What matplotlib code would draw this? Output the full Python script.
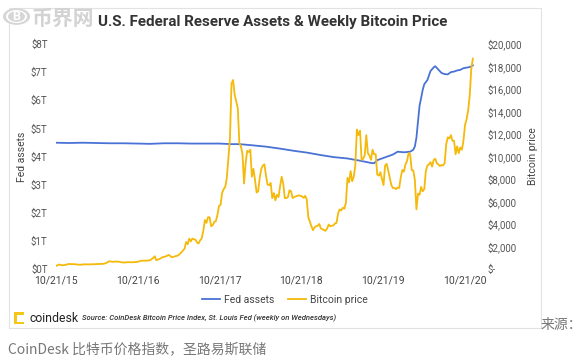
import matplotlib
matplotlib.use("Agg")
import matplotlib.pyplot as plt
from matplotlib.patches import Rectangle, Circle
import pandas as pd

plt.rcParams['font.family'] = ['Roboto', 'Noto Sans CJK SC', 'DejaVu Sans']

# ---------------- data ----------------
btc_dates = [
    "2015-10-21","2015-11-04","2015-11-18","2015-12-02","2015-12-16","2015-12-30",
    "2016-01-13","2016-01-27","2016-02-10","2016-02-24","2016-03-09","2016-03-23",
    "2016-04-06","2016-04-20","2016-05-04","2016-05-18","2016-06-01","2016-06-15",
    "2016-06-29","2016-07-13","2016-07-27","2016-08-10","2016-08-24","2016-09-07",
    "2016-09-21","2016-10-05","2016-10-19","2016-11-02","2016-11-16","2016-11-30",
    "2016-12-14","2016-12-28","2017-01-04","2017-01-11","2017-01-25","2017-02-08",
    "2017-02-22","2017-03-08","2017-03-22","2017-04-05","2017-04-19","2017-05-03",
    "2017-05-17","2017-05-24","2017-05-31","2017-06-07","2017-06-14","2017-06-21",
    "2017-07-05","2017-07-12","2017-07-19","2017-07-26","2017-08-02","2017-08-09",
    "2017-08-16","2017-08-23","2017-08-30","2017-09-06","2017-09-13","2017-09-20",
    "2017-09-27","2017-10-04","2017-10-11","2017-10-18","2017-10-25","2017-11-01",
    "2017-11-08","2017-11-15","2017-11-22","2017-11-29","2017-12-06","2017-12-13",
    "2017-12-20","2017-12-27","2018-01-03","2018-01-10","2018-01-17","2018-01-24",
    "2018-01-31","2018-02-07","2018-02-14","2018-02-21","2018-02-28","2018-03-07",
    "2018-03-14","2018-03-21","2018-03-28","2018-04-04","2018-04-11","2018-04-18",
    "2018-04-25","2018-05-02","2018-05-09","2018-05-16","2018-05-23","2018-05-30",
    "2018-06-06","2018-06-13","2018-06-20","2018-06-27","2018-07-04","2018-07-11",
    "2018-07-18","2018-07-25","2018-08-01","2018-08-08","2018-08-15","2018-08-22",
    "2018-08-29","2018-09-05","2018-09-12","2018-09-19","2018-09-26","2018-10-03",
    "2018-10-10","2018-10-17","2018-10-24","2018-10-31","2018-11-07","2018-11-14",
    "2018-11-21","2018-11-28","2018-12-05","2018-12-12","2018-12-19","2018-12-26",
    "2019-01-02","2019-01-09","2019-01-16","2019-01-23","2019-01-30","2019-02-06",
    "2019-02-13","2019-02-20","2019-02-27","2019-03-06","2019-03-13","2019-03-20",
    "2019-03-27","2019-04-03","2019-04-10","2019-04-17","2019-04-24","2019-05-01",
    "2019-05-08","2019-05-15","2019-05-22","2019-05-29","2019-06-05","2019-06-12",
    "2019-06-19","2019-06-26","2019-07-03","2019-07-10","2019-07-17","2019-07-24",
    "2019-07-31","2019-08-07","2019-08-14","2019-08-21","2019-08-28","2019-09-04",
    "2019-09-11","2019-09-18","2019-09-25","2019-10-02","2019-10-09","2019-10-16",
    "2019-10-23","2019-10-30","2019-11-06","2019-11-13","2019-11-20","2019-11-27",
    "2019-12-04","2019-12-11","2019-12-18","2019-12-25","2020-01-01","2020-01-08",
    "2020-01-15","2020-01-22","2020-01-29","2020-02-05","2020-02-12","2020-02-19",
    "2020-02-26","2020-03-04","2020-03-11","2020-03-18","2020-03-25","2020-04-01",
    "2020-04-08","2020-04-15","2020-04-22","2020-04-29","2020-05-06","2020-05-13",
    "2020-05-20","2020-05-27","2020-06-03","2020-06-10","2020-06-17","2020-06-24",
    "2020-07-01","2020-07-08","2020-07-15","2020-07-22","2020-07-29","2020-08-05",
    "2020-08-12","2020-08-19","2020-08-26","2020-09-02","2020-09-09","2020-09-16",
    "2020-09-23","2020-09-30","2020-10-07","2020-10-14","2020-10-21","2020-10-28",
    "2020-11-04","2020-11-11","2020-11-18","2020-11-25",
]
btc_price = [
    270, 400, 330, 360, 450, 430,
    430, 390, 380, 420, 410, 415,
    420, 440, 450, 450, 530, 690,
    640, 660, 655, 590, 580, 610,
    595, 610, 630, 730, 740, 740,
    780, 975, 1130, 780, 890, 1050,
    1120, 1250, 1040, 1120, 1210, 1480,
    1800, 2400, 2200, 2700, 2450, 2700,
    2600, 2350, 2270, 2550, 2720, 3400,
    4350, 4100, 4600, 4600, 3800, 3900,
    4200, 4250, 4800, 5600, 5700, 6750,
    7100, 7300, 8100, 9900, 11600, 16500,
    16800, 15500, 14900, 14300, 11200, 10900,
    10200, 7600, 9400, 10500, 10400, 10600,
    8200, 8900, 7900, 6800, 6900, 8100,
    8900, 9200, 9300, 8300, 7500, 7450,
    7650, 6300, 6750, 6100, 6600, 6400,
    7350, 8200, 7600, 6300, 6300, 6400,
    7000, 6900, 6300, 6400, 6450, 6500,
    6550, 6500, 6450, 6320, 6500, 6200,
    4600, 4200, 3800, 3450, 3700, 3800,
    3850, 4000, 3600, 3550, 3450, 3400,
    3600, 3950, 3800, 3850, 3870, 4050,
    4100, 4950, 5300, 5200, 5450, 5350,
    5900, 8100, 7700, 8700, 7800, 8200,
    9200, 12400, 11900, 12300, 9700, 9800,
    10100, 11900, 10300, 10100, 9700, 10600,
    10200, 10200, 8400, 8300, 8600, 8000,
    7450, 9200, 9350, 8750, 8100, 7450,
    7200, 7200, 7100, 7250, 7200, 8150,
    8800, 8650, 9300, 9600, 10300, 10200,
    8800, 8750, 7900, 5300, 6700, 6600,
    7300, 6900, 7100, 8700, 9200, 9300,
    9500, 9100, 9700, 9800, 9400, 9300,
    9150, 9250, 9200, 9400, 11100, 11700,
    11600, 11900, 11400, 11400, 10200, 10900,
    10300, 10800, 10600, 11400, 12800, 13300,
    14100, 15400, 17800, 18700,
]

fed_dates = [
    "2015-10-21","2015-12-16","2016-02-17","2016-04-20","2016-06-15","2016-08-17",
    "2016-10-19","2016-12-14","2017-02-15","2017-04-19","2017-06-14","2017-08-16",
    "2017-10-18","2017-12-13","2018-01-17","2018-03-14","2018-05-16","2018-07-18",
    "2018-09-19","2018-11-14","2019-01-16","2019-03-13","2019-05-15","2019-07-17",
    "2019-08-28","2019-09-11","2019-09-25","2019-10-30","2019-12-04","2019-12-25",
    "2020-01-22","2020-02-19","2020-03-04","2020-03-11","2020-03-18","2020-03-25",
    "2020-04-01","2020-04-08","2020-04-15","2020-04-22","2020-05-06","2020-05-20",
    "2020-06-03","2020-06-10","2020-06-24","2020-07-08","2020-07-22","2020-08-05",
    "2020-08-19","2020-09-02","2020-09-16","2020-09-30","2020-10-14","2020-10-28",
    "2020-11-11","2020-11-25",
]
fed_assets = [
    4.49, 4.48, 4.49, 4.48, 4.47, 4.47,
    4.46, 4.45, 4.47, 4.47, 4.46, 4.46,
    4.46, 4.44, 4.44, 4.40, 4.35, 4.28,
    4.20, 4.14, 4.05, 3.98, 3.93, 3.84,
    3.77, 3.76, 3.87, 3.97, 4.07, 4.17,
    4.15, 4.17, 4.24, 4.36, 4.67, 5.25,
    5.81, 6.08, 6.37, 6.57, 6.72, 7.04,
    7.17, 7.21, 7.09, 6.97, 6.93, 6.92,
    7.00, 7.02, 7.06, 7.08, 7.14, 7.16,
    7.18, 7.24,
]

x_tick_dates = ["2015-10-21","2016-10-21","2017-10-21","2018-10-21","2019-10-21","2020-10-21"]
x_tick_labels = ["10/21/15","10/21/16","10/21/17","10/21/18","10/21/19","10/21/20"]
left_ticks = [0, 1, 2, 3, 4, 5, 6, 7, 8]
left_labels = ["$0T","$1T","$2T","$3T","$4T","$5T","$6T","$7T","$8T"]
right_ticks = [0, 2000, 4000, 6000, 8000, 10000, 12000, 14000, 16000, 18000, 20000]
right_labels = ["$-","$2,000","$4,000","$6,000","$8,000","$10,000","$12,000",
                "$14,000","$16,000","$18,000","$20,000"]

BLUE = "#4a72d6"
YELLOW = "#f5b90a"
TICK = "#555555"

W, H = 583, 361
fig = plt.figure(figsize=(W / 100, H / 100), dpi=100)
fig.patch.set_facecolor("white")


def fx(px):
    return px / W


def fy(py):
    return 1 - py / H


# card border
fig.patches.append(Rectangle((fx(9), fy(328)), fx(541) - fx(9), fy(8) - fy(328),
                             transform=fig.transFigure, fill=False,
                             edgecolor="#e2e2e2", lw=0.8, zorder=0))

ax = fig.add_axes([fx(56), fy(269), fx(478) - fx(56), fy(44) - fy(269)])
ax2 = ax.twinx()

fd = pd.to_datetime(fed_dates)
bd = pd.to_datetime(btc_dates)
l1, = ax.plot(fd, fed_assets, color=BLUE, lw=1.3, label="Fed assets", zorder=3)
l2, = ax2.plot(bd, btc_price, color=YELLOW, lw=1.3, label="Bitcoin price", zorder=2)

ax.set_xlim(pd.Timestamp("2015-10-21"), pd.Timestamp("2020-12-18"))
ax.set_ylim(0, 8)
ax2.set_ylim(0, 20000)

ax.set_xticks(pd.to_datetime(x_tick_dates))
ax.set_xticklabels(x_tick_labels, fontsize=7.5, color="#444444")
ax.set_yticks(left_ticks)
ax.set_yticklabels(left_labels, fontsize=7, color=TICK)
ax2.set_yticks(right_ticks)
ax2.set_yticklabels(right_labels, fontsize=7, color=TICK)

for a in (ax, ax2):
    for s in a.spines.values():
        s.set_visible(False)
    a.tick_params(length=0)
    a.patch.set_alpha(0)
ax.tick_params(axis="x", pad=5)
ax.tick_params(axis="y", pad=6)
ax2.tick_params(axis="y", pad=7)

ax.set_ylabel("Fed assets", fontsize=7.5, color="#444444", labelpad=3)
ax2.set_ylabel("Bitcoin price", fontsize=7.5, color="#444444", labelpad=4)

# title
fig.text(fx(98), fy(22), "U.S. Federal Reserve Assets & Weekly Bitcoin Price",
         fontsize=10.9, fontweight="bold", color="#333333", va="center", ha="left")

# watermark logo
fig.patches.append(Circle((fx(16.5), fy(16.5)), 13.5 / W, transform=fig.transFigure,
                          facecolor="#d6d6d6", edgecolor="none", zorder=1))
fig.patches.append(Circle((fx(16.5), fy(16.5)), 10.5 / W, transform=fig.transFigure,
                          facecolor="white", edgecolor="none", zorder=1))
fig.patches.append(Circle((fx(16.5), fy(16.5)), 8.5 / W, transform=fig.transFigure,
                          facecolor="#d6d6d6", edgecolor="none", zorder=1))
fig.text(fx(16.5), fy(16.5), "B", fontsize=9, fontweight="bold", color="white",
         ha="center", va="center")
fig.text(fx(32), fy(18), "币界网", fontsize=15, fontweight="bold", color="#d3d3d3",
         ha="left", va="center", family=["Noto Sans CJK SC", "DejaVu Sans"])

# legend
fig.legend(handles=[l1, l2], loc="center", bbox_to_anchor=(fx(285), fy(300)),
           ncol=2, frameon=False, fontsize=7.5, handlelength=1.7, handletextpad=0.4,
           columnspacing=1.3, labelcolor="#444444")

# coindesk footer
for (x0, y0, w, h) in [(14, 324, 3, 12), (14, 314.5, 10, 2.5), (14, 324, 10, 2.5)]:
    fig.patches.append(Rectangle((fx(x0), fy(y0)), w / W, h / H,
                                 transform=fig.transFigure,
                                 facecolor="#f5c518", edgecolor="none"))
fig.text(fx(29), fy(318), "coindesk", fontsize=8.8, color="#222222",
         ha="left", va="center")
fig.text(fx(82), fy(318.5),
         "Source: CoinDesk Bitcoin Price Index, St. Louis Fed (weekly on Wednesdays)",
         fontsize=5.5, style="italic", fontweight="medium", color="#333333",
         ha="left", va="center")

cjk = ["Noto Sans CJK SC", "DejaVu Sans"]
fig.text(fx(541), fy(325), "来源：", fontsize=10, color="#777777", ha="left",
         va="center", family=cjk)
fig.text(fx(8), fy(349), "CoinDesk 比特币价格指数，圣路易斯联储", fontsize=10,
         color="#777777", ha="left", va="center", family=cjk)

fig.savefig("out.png", dpi=100, facecolor="white")
